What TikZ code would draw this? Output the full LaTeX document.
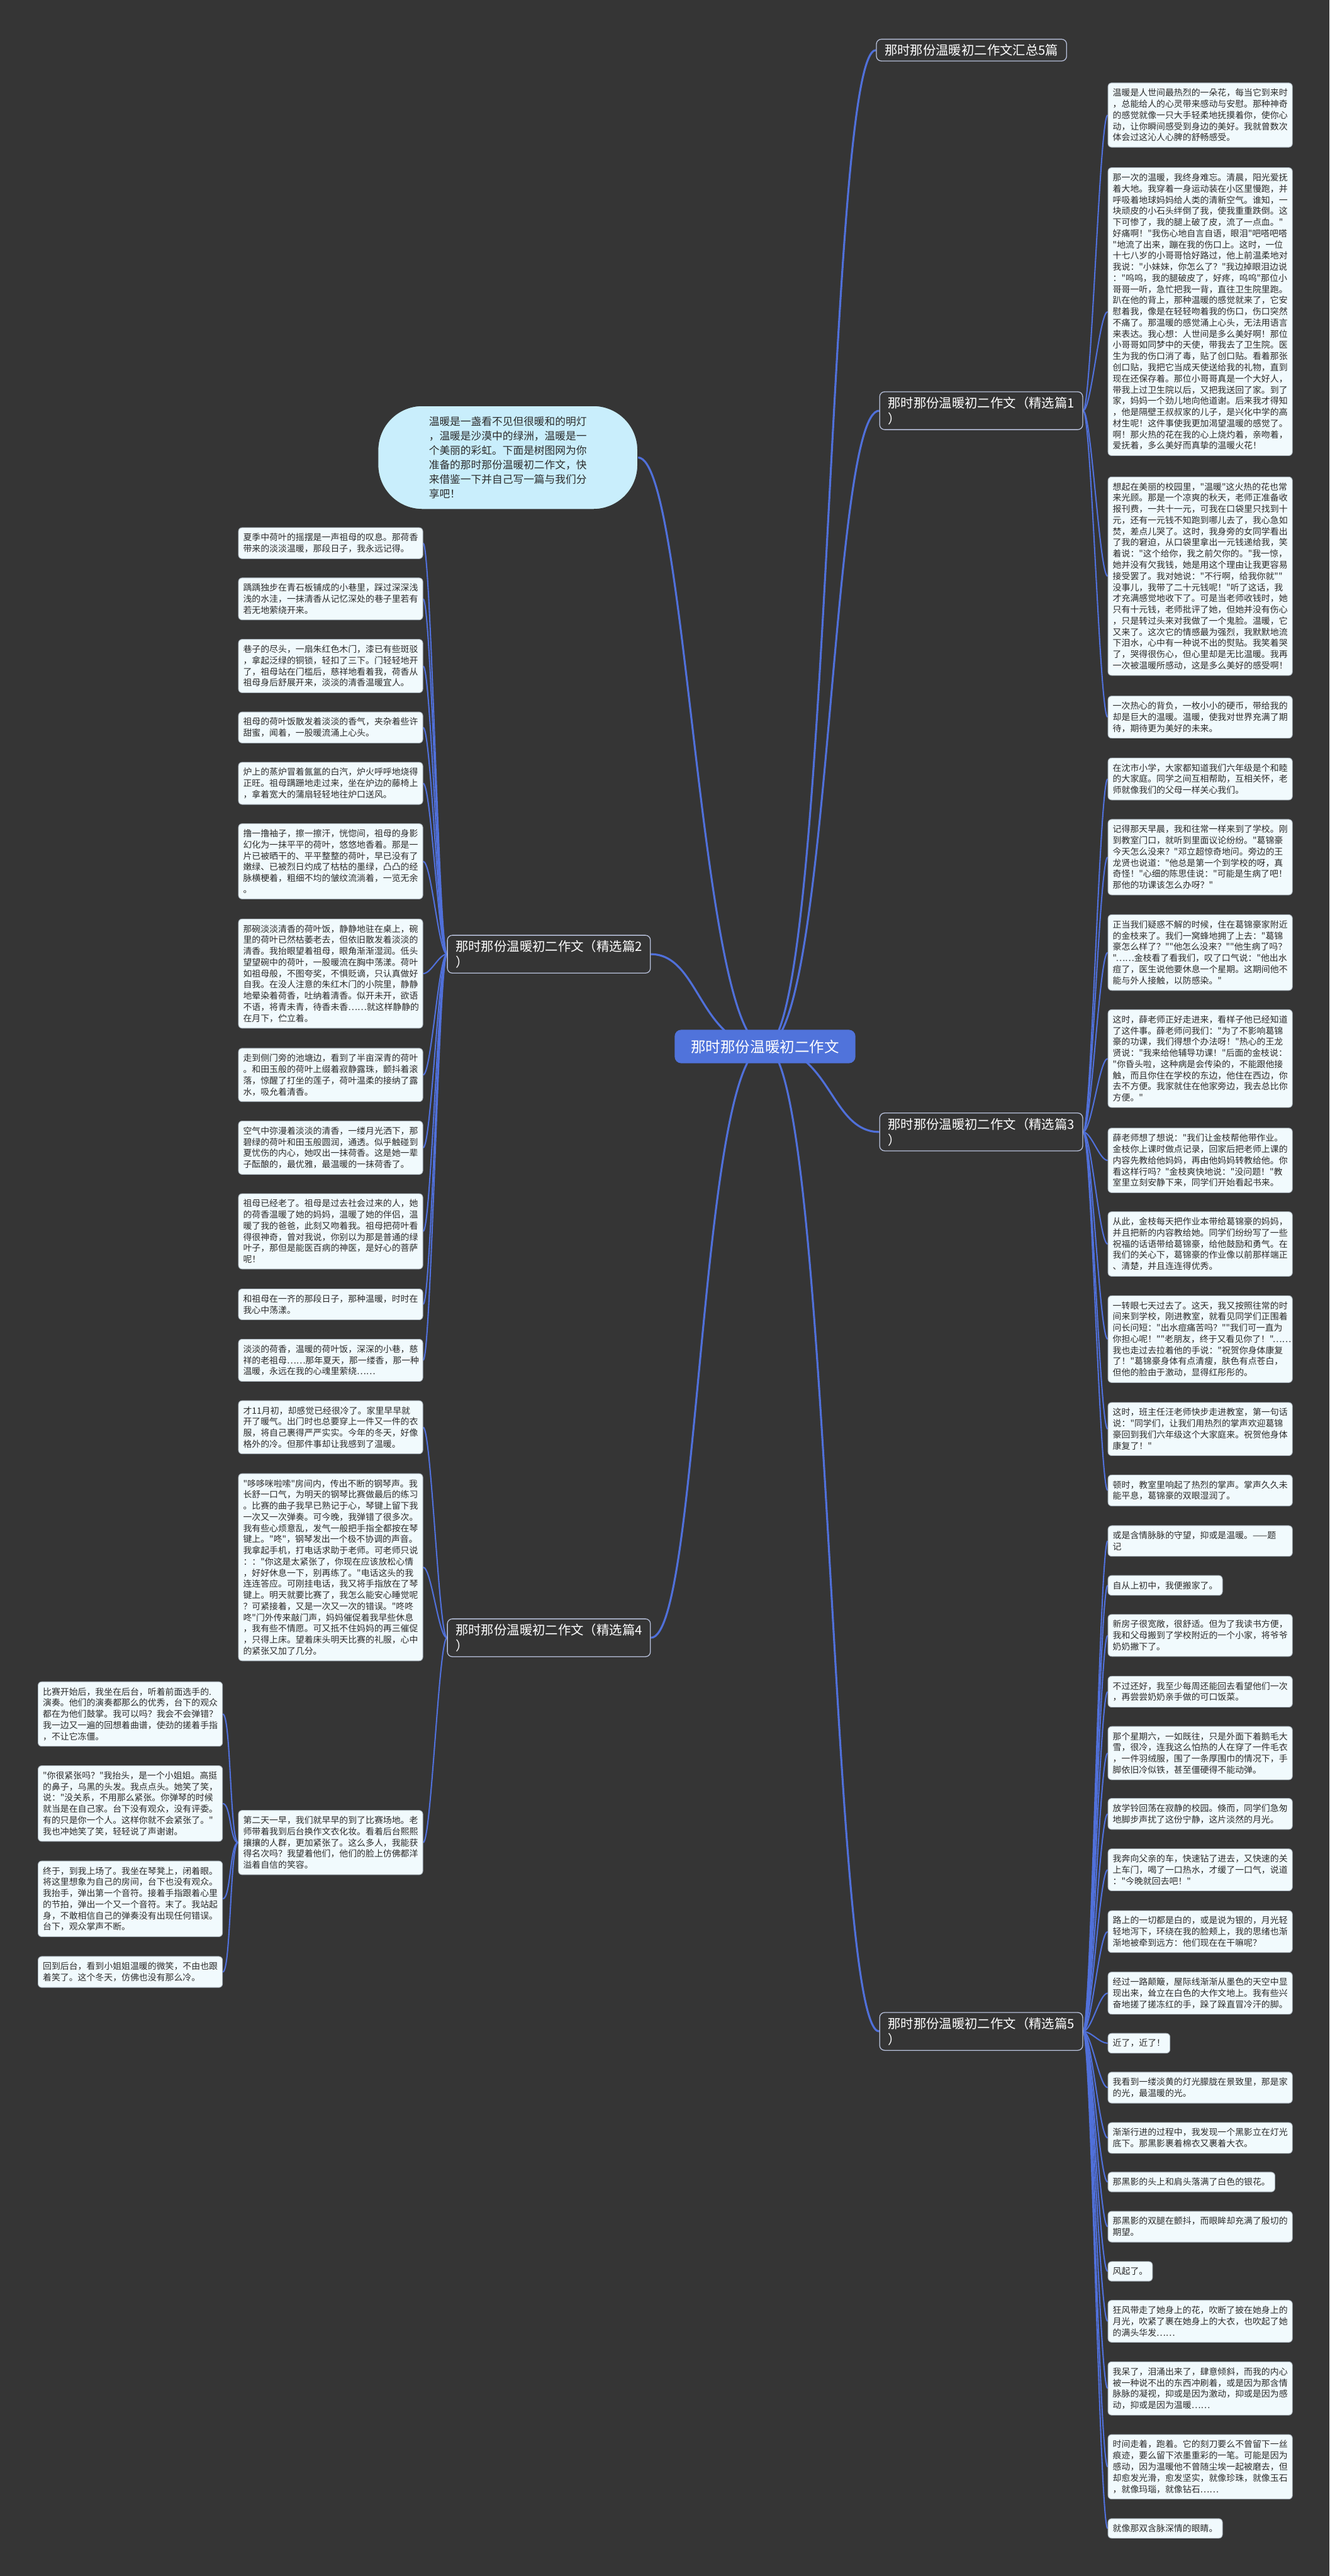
\documentclass[tikz,border=0pt]{standalone}
\usepackage{fontspec}
\setmainfont{Noto Sans CJK SC}[Ligatures=TeXOff]
\usetikzlibrary{positioning}
\pgfdeclarelayer{bgfill}
\pgfdeclarelayer{links}
\pgfsetlayers{bgfill,links,main}
\definecolor{bgc}{HTML}{353535}
\definecolor{leaffill}{HTML}{F1FAFD}
\definecolor{leafline}{HTML}{A9B3BC}
\definecolor{leaftext}{HTML}{2B2B2B}
\definecolor{linkc}{HTML}{5070DA}
\definecolor{rootc}{HTML}{5073DB}
\definecolor{bubblec}{HTML}{C9EEFC}
\definecolor{topicline}{HTML}{B7C0DA}

\tikzset{
  leaf/.style={draw=leafline, line width=0.35pt, fill=leaffill, rounded corners=2.2pt,
    text=leaftext, anchor=north west, align=left, inner xsep=2.9pt, inner ysep=3.5pt,
    font=\fontsize{5.32}{6.8}\selectfont},
  wide/.style={leaf, text width=106.4pt},
  topic/.style={draw=topicline, line width=0.5pt, fill=bgc, rounded corners=3pt, text=white,
    align=left, inner xsep=5pt, inner ysep=3pt, font=\fontsize{7.8}{9.6}\selectfont},
  link/.style={draw=linkc, line width=0.8pt},
  mainlink/.style={draw=linkc, line width=1.2pt},
}

\begin{document}
\begin{tikzpicture}[x=1pt,y=-1pt]
\begin{pgfonlayer}{bgfill}
  \fill[bgc] (0,0) rectangle (809,1568);
\end{pgfonlayer}
\useasboundingbox (0,0) rectangle (809,1568);

% centre and summary
\node[fill=rootc, rounded corners=4pt, text=white, inner xsep=10pt, inner ysep=6pt,
  font=\fontsize{9}{11}\selectfont] (root) at (465.5,637) {那时那份温暖初二作文};
\node[fill=bubblec, draw=bgc, rounded corners=27pt, minimum width=158pt, minimum height=63pt,
  text width=96pt, align=left, text=leaftext, font=\fontsize{6.4}{8.85}\selectfont]
  (s) at (309,278.5) {温暖是一盏看不见但很暖和的明灯\\，温暖是沙漠中的绿洲，温暖是一\\个美丽的彩虹。下面是树图网为你\\准备的那时那份温暖初二作文，快\\来借鉴一下并自己写一篇与我们分\\享吧！};

% branch topics
\node[topic, anchor=west] (b0) at (533,30.5) {那时那份温暖初二作文汇总5篇};
\node[topic, anchor=west] (b1) at (535,250) {那时那份温暖初二作文（精选篇1\\）};
\node[topic, anchor=east] (b2) at (396,580.8) {那时那份温暖初二作文（精选篇2\\）};
\node[topic, anchor=west] (b3) at (535,689) {那时那份温暖初二作文（精选篇3\\）};
\node[topic, anchor=east] (b4) at (396,996.9) {那时那份温暖初二作文（精选篇4\\）};
\node[topic, anchor=west] (b5) at (535,1236.5) {那时那份温暖初二作文（精选篇5\\）};

% 精选篇1
\node[wide] (a1) at (674,50.3) {温暖是人世间最热烈的一朵花，每当它到来时\\，总能给人的心灵带来感动与安慰。那种神奇\\的感觉就像一只大手轻柔地抚摸着你，使你心\\动，让你瞬间感受到身边的美好。我就曾数次\\体会过这沁人心脾的舒畅感受。};
\node[wide] (a2) at (674,101.9) {那一次的温暖，我终身难忘。清晨，阳光爱抚\\着大地。我穿着一身运动装在小区里慢跑，并\\呼吸着地球妈妈给人类的清新空气。谁知，一\\块顽皮的小石头绊倒了我，使我重重跌倒。这\\下可惨了，我的腿上破了皮，流了一点血。"\\好痛啊！"我伤心地自言自语，眼泪"吧嗒吧嗒\\"地流了出来，蹦在我的伤口上。这时，一位\\十七八岁的小哥哥恰好路过，他上前温柔地对\\我说："小妹妹，你怎么了？"我边掉眼泪边说\\："呜呜，我的腿破皮了，好疼，呜呜"那位小\\哥哥一听，急忙把我一背，直往卫生院里跑。\\趴在他的背上，那种温暖的感觉就来了，它安\\慰着我，像是在轻轻吻着我的伤口，伤口突然\\不痛了。那温暖的感觉涌上心头，无法用语言\\来表达。我心想：人世间是多么美好啊！那位\\小哥哥如同梦中的天使，带我去了卫生院。医\\生为我的伤口消了毒，贴了创口贴。看着那张\\创口贴，我把它当成天使送给我的礼物，直到\\现在还保存着。那位小哥哥真是一个大好人，\\带我上过卫生院以后，又把我送回了家。到了\\家，妈妈一个劲儿地向他道谢。后来我才得知\\，他是隔壁王叔叔家的儿子，是兴化中学的高\\材生呢！这件事使我更加渴望温暖的感觉了。\\啊！那火热的花在我的心上烧灼着，亲吻着，\\爱抚着，多么美好而真挚的温暖火花！};
\node[wide] (a3) at (674,290.1) {想起在美丽的校园里，"温暖"这火热的花也常\\来光顾。那是一个凉爽的秋天，老师正准备收\\报刊费，一共十一元，可我在口袋里只找到十\\元，还有一元钱不知跑到哪儿去了，我心急如\\焚，差点儿哭了。这时，我身旁的女同学看出\\了我的窘迫，从口袋里拿出一元钱递给我，笑\\着说："这个给你，我之前欠你的。"我一惊，\\她并没有欠我钱，她是用这个理由让我更容易\\接受罢了。我对她说："不行啊，给我你就""\\没事儿，我带了二十元钱呢！"听了这话，我\\才充满感觉地收下了。可是当老师收钱时，她\\只有十元钱，老师批评了她，但她并没有伤心\\，只是转过头来对我做了一个鬼脸。温暖，它\\又来了。这次它的情感最为强烈，我默默地流\\下泪水，心中有一种说不出的熨贴。我笑着哭\\了，哭得很伤心，但心里却是无比温暖。我再\\一次被温暖所感动，这是多么美好的感受啊！};
\node[wide] (a4) at (674,423.5) {一次热心的背负，一枚小小的硬币，带给我的\\却是巨大的温暖。温暖，使我对世界充满了期\\待，期待更为美好的未来。};

% 精选篇3
\node[wide] (c1) at (674,461.2) {在沈市小学，大家都知道我们六年级是个和睦\\的大家庭。同学之间互相帮助，互相关怀，老\\师就像我们的父母一样关心我们。};
\node[wide] (c2) at (674,498.6) {记得那天早晨，我和往常一样来到了学校。刚\\到教室门口，就听到里面议论纷纷。"葛锦豪\\今天怎么没来？"邓立超惊奇地问。旁边的王\\龙贤也说道："他总是第一个到学校的呀，真\\奇怪！"心细的陈思佳说："可能是生病了吧！\\那他的功课该怎么办呀？"};
\node[wide] (c3) at (674,556.6) {正当我们疑惑不解的时候，住在葛锦豪家附近\\的金枝来了。我们一窝蜂地拥了上去："葛锦\\豪怎么样了？""他怎么没来？""他生病了吗？\\"……金枝看了看我们，叹了口气说："他出水\\痘了，医生说他要休息一个星期。这期间他不\\能与外人接触，以防感染。"};
\node[wide] (c4) at (674,614.4) {这时，薛老师正好走进来，看样子他已经知道\\了这件事。薛老师问我们："为了不影响葛锦\\豪的功课，我们得想个办法呀！"热心的王龙\\贤说："我来给他辅导功课！"后面的金枝说：\\"你昏头啦，这种病是会传染的，不能跟他接\\触，而且你住在学校的东边，他住在西边，你\\去不方便。我家就住在他家旁边，我去总比你\\方便。"};
\node[wide] (c5) at (674,686.5) {薛老师想了想说："我们让金枝帮他带作业。\\金枝你上课时做点记录，回家后把老师上课的\\内容先教给他妈妈，再由他妈妈转教给他。你\\看这样行吗？"金枝爽快地说："没问题！"教\\室里立刻安静下来，同学们开始看起书来。};
\node[wide] (c6) at (674,737.4) {从此，金枝每天把作业本带给葛锦豪的妈妈，\\并且把新的内容教给她。同学们纷纷写了一些\\祝福的话语带给葛锦豪，给他鼓励和勇气。在\\我们的关心下，葛锦豪的作业像以前那样端正\\、清楚，并且连连得优秀。};
\node[wide] (c7) at (674,788.5) {一转眼七天过去了。这天，我又按照往常的时\\间来到学校，刚进教室，就看见同学们正围着\\问长问短："出水痘痛苦吗？""我们可一直为\\你担心呢！""老朋友，终于又看见你了！"……\\我也走过去拉着他的手说："祝贺你身体康复\\了！"葛锦豪身体有点清瘦，肤色有点苍白，\\但他的脸由于激动，显得红彤彤的。};
\node[wide] (c8) at (674,853.5) {这时，班主任汪老师快步走进教室，第一句话\\说："同学们，让我们用热烈的掌声欢迎葛锦\\豪回到我们六年级这个大家庭来。祝贺他身体\\康复了！"};
\node[wide] (c9) at (674,897.6) {顿时，教室里响起了热烈的掌声。掌声久久未\\能平息，葛锦豪的双眼湿润了。};

% 精选篇5
\node[wide] (e1) at (674,928.5) {或是含情脉脉的守望，抑或是温暖。——题\\记};
\node[leaf] (e2) at (674,958.8) {自从上初中，我便搬家了。};
\node[wide] (e3) at (674,982.5) {新房子很宽敞，很舒适。但为了我读书方便，\\我和父母搬到了学校附近的一个小家，将爷爷\\奶奶撇下了。};
\node[wide] (e4) at (674,1020.1) {不过还好，我至少每周还能回去看望他们一次\\，再尝尝奶奶亲手做的可口饭菜。};
\node[wide] (e5) at (674,1050.7) {那个星期六，一如既往，只是外面下着鹅毛大\\雪，很冷，连我这么怕热的人在穿了一件毛衣\\，一件羽绒服，围了一条厚围巾的情况下，手\\脚依旧冷似铁，甚至僵硬得不能动弹。};
\node[wide] (e6) at (674,1094.5) {放学铃回荡在寂静的校园。倏而，同学们急匆\\地脚步声扰了这份宁静，这片淡然的月光。};
\node[wide] (e7) at (674,1125.2) {我奔向父亲的车，快速钻了进去，又快速的关\\上车门，喝了一口热水，才缓了一口气，说道\\："今晚就回去吧！"};
\node[wide] (e8) at (674,1162.8) {路上的一切都是白的，或是说为银的，月光轻\\轻地泻下，环绕在我的脸颊上，我的思绪也渐\\渐地被牵到远方：他们现在在干嘛呢？};
\node[wide] (e9) at (674,1200.2) {经过一路颠簸，屋际线渐渐从墨色的天空中显\\现出来，耸立在白色的大作文地上。我有些兴\\奋地搓了搓冻红的手，跺了跺直冒冷汗的脚。};
\node[leaf] (e10) at (674,1237.5) {近了，近了！};
\node[wide] (e11) at (674,1261.1) {我看到一缕淡黄的灯光朦胧在景致里，那是家\\的光，最温暖的光。};
\node[wide] (e12) at (674,1291.8) {渐渐行进的过程中，我发现一个黑影立在灯光\\底下。那黑影裹着棉衣又裹着大衣。};
\node[leaf] (e13) at (674,1322) {那黑影的头上和肩头落满了白色的银花。};
\node[wide] (e14) at (674,1345.8) {那黑影的双腿在颤抖，而眼眸却充满了殷切的\\期望。};
\node[leaf] (e15) at (674,1376.4) {风起了。};
\node[wide] (e16) at (674,1400) {狂风带走了她身上的花，吹断了披在她身上的\\月光，吹紧了裹在她身上的大衣，也吹起了她\\的满头华发……};
\node[wide] (e17) at (674,1437.4) {我呆了，泪涌出来了，肆意倾斜，而我的内心\\被一种说不出的东西冲刷着，或是因为那含情\\脉脉的凝视，抑或是因为激动，抑或是因为感\\动，抑或是因为温暖……};
\node[wide] (e18) at (674,1481.7) {时间走着，跑着。它的刻刀要么不曾留下一丝\\痕迹，要么留下浓墨重彩的一笔。可能是因为\\感动，因为温暖他不曾随尘埃一起被磨去，但\\却愈发光滑，愈发坚实，就像珍珠，就像玉石\\，就像玛瑙，就像钻石……};
\node[leaf] (e19) at (674,1532.9) {就像那双含脉深情的眼睛。};

% 精选篇2
\node[wide] (l1) at (144.9,321) {夏季中荷叶的摇摆是一声祖母的叹息。那荷香\\带来的淡淡温暖，那段日子，我永远记得。};
\node[wide] (l2) at (144.9,351.6) {踽踽独步在青石板铺成的小巷里，踩过深深浅\\浅的水洼，一抹清香从记忆深处的巷子里若有\\若无地萦绕开来。};
\node[wide] (l3) at (144.9,389) {巷子的尽头，一扇朱红色木门，漆已有些斑驳\\，拿起泛绿的铜锁，轻扣了三下。门轻轻地开\\了，祖母站在门槛后，慈祥地看着我，荷香从\\祖母身后舒展开来，淡淡的清香温暖宜人。};
\node[wide] (l4) at (144.9,433.2) {祖母的荷叶饭散发着淡淡的香气，夹杂着些许\\甜蜜，闻着，一股暖流涌上心头。};
\node[wide] (l5) at (144.9,463.8) {炉上的蒸炉冒着氤氲的白汽，炉火呼呼地烧得\\正旺。祖母蹒跚地走过来，坐在炉边的藤椅上\\，拿着宽大的蒲扇轻轻地往炉口送风。};
\node[wide] (l6) at (144.9,501.2) {撸一撸袖子，擦一擦汗，恍惚间，祖母的身影\\幻化为一抹平平的荷叶，悠悠地香着。那是一\\片已被晒干的、平平整整的荷叶，早已没有了\\嫩绿、已被烈日灼成了枯枯的墨绿，凸凸的经\\脉横梗着，粗细不均的皱纹流淌着，一览无余\\。};
\node[wide] (l7) at (144.9,559.2) {那碗淡淡清香的荷叶饭，静静地驻在桌上，碗\\里的荷叶已然枯萎老去，但依旧散发着淡淡的\\清香。我抬眼望着祖母，眼角渐渐湿润。低头\\望望碗中的荷叶，一股暖流在胸中荡漾。荷叶\\如祖母般，不图夸奖，不惧贬谪，只认真做好\\自我。在没人注意的朱红木门的小院里，静静\\地晕染着荷香，吐纳着清香。似开未开，欲语\\不语，将青未青，待香未香……就这样静静的\\在月下，伫立着。};
\node[wide] (l8) at (144.9,637.9) {走到侧门旁的池塘边，看到了半亩深青的荷叶\\。和田玉般的荷叶上缀着寂静露珠，颤抖着滚\\落，惊醒了打坐的莲子，荷叶温柔的接纳了露\\水，吸允着清香。};
\node[wide] (l9) at (144.9,682.2) {空气中弥漫着淡淡的清香，一缕月光洒下，那\\碧绿的荷叶和田玉般圆润，通透。似乎触碰到\\夏忧伤的内心，她叹出一抹荷香。这是她一辈\\子酝酿的，最优雅，最温暖的一抹荷香了。};
\node[wide] (l10) at (144.9,726.4) {祖母已经老了。祖母是过去社会过来的人，她\\的荷香温暖了她的妈妈，温暖了她的伴侣，温\\暖了我的爸爸，此刻又吻着我。祖母把荷叶看\\得很神奇，曾对我说，你别以为那是普通的绿\\叶子，那但是能医百病的神医，是好心的菩萨\\呢！};
\node[wide] (l11) at (144.9,784.4) {和祖母在一齐的那段日子，那种温暖，时时在\\我心中荡漾。};
\node[wide] (l12) at (144.9,815) {淡淡的荷香，温暖的荷叶饭，深深的小巷，慈\\祥的老祖母……那年夏天，那一缕香，那一种\\温暖，永远在我的心魂里萦绕……};

% 精选篇4
\node[wide] (m1) at (144.9,852.4) {才11月初，却感觉已经很冷了。家里早早就\\开了暖气。出门时也总要穿上一件又一件的衣\\服，将自己裹得严严实实。今年的冬天，好像\\格外的冷。但那件事却让我感到了温暖。};
\node[wide] (m2) at (144.9,896.8) {"哆哆咪啦嗦"房间内，传出不断的钢琴声。我\\长舒一口气，为明天的钢琴比赛做最后的练习\\。比赛的曲子我早已熟记于心，琴键上留下我\\一次又一次弹奏。可今晚，我弹错了很多次。\\我有些心烦意乱，发气一般把手指全都按在琴\\键上。"咚"，钢琴发出一个极不协调的声音。\\我拿起手机，打电话求助于老师。可老师只说\\：："你这是太紧张了，你现在应该放松心情\\，好好休息一下，别再练了。"电话这头的我\\连连答应。可刚挂电话，我又将手指放在了琴\\键上。明天就要比赛了，我怎么能安心睡觉呢\\？可紧接着，又是一次又一次的错误。"咚咚\\咚"门外传来敲门声，妈妈催促着我早些休息\\，我有些不情愿。可又抵不住妈妈的再三催促\\，只得上床。望着床头明天比赛的礼服，心中\\的紧张又加了几分。};
\node[wide] (m3) at (144.9,1101.8) {第二天一早，我们就早早的到了比赛场地。老\\师带着我到后台换作文衣化妆。看着后台熙熙\\攘攘的人群，更加紧张了。这么多人，我能获\\得名次吗？我望着他们，他们的脸上仿佛都洋\\溢着自信的笑容。};
\node[wide] (f1) at (23,1023.5) {比赛开始后，我坐在后台，听着前面选手的.\\演奏。他们的演奏都那么的优秀，台下的观众\\都在为他们鼓掌。我可以吗？我会不会弹错？\\我一边又一遍的回想着曲谱，使劲的搓着手指\\，不让它冻僵。};
\node[wide] (f2) at (23,1074.6) {"你很紧张吗？"我抬头，是一个小姐姐。高挺\\的鼻子，乌黑的头发。我点点头。她笑了笑，\\说："没关系，不用那么紧张。你弹琴的时候\\就当是在自己家。台下没有观众，没有评委。\\有的只是你一个人。这样你就不会紧张了。"\\我也冲她笑了笑，轻轻说了声谢谢。};
\node[wide] (f3) at (23,1132.6) {终于，到我上场了。我坐在琴凳上，闭着眼。\\将这里想象为自己的房间，台下也没有观众。\\我抬手，弹出第一个音符。接着手指跟着心里\\的节拍，弹出一个又一个音符。末了。我站起\\身，不敢相信自己的弹奏没有出现任何错误。\\台下，观众掌声不断。};
\node[wide] (f4) at (23,1190.7) {回到后台，看到小姐姐温暖的微笑，不由也跟\\着笑了。这个冬天，仿佛也没有那么冷。};

\begin{pgfonlayer}{links}
  % centre to topics
  \foreach \b in {b0,b1,b3,b5}
    \draw[mainlink] (root.center) .. controls +(40,0) and +(-30,0) .. (\b.west);
  \foreach \b in {b2,b4,s}
    \draw[mainlink] (root.center) .. controls +(-40,0) and +(30,0) .. (\b.east);
  % topics to leaves
  \foreach \c in {a1,a2,a3,a4}
    \draw[link] (b1.east) .. controls +(5,0) and +(-5,0) .. (\c.west);
  \foreach \c in {c1,c2,c3,c4,c5,c6,c7,c8,c9}
    \draw[link] (b3.east) .. controls +(5,0) and +(-5,0) .. (\c.west);
  \foreach \c in {e1,e2,e3,e4,e5,e6,e7,e8,e9,e10,e11,e12,e13,e14,e15,e16,e17,e18,e19}
    \draw[link] (b5.east) .. controls +(5,0) and +(-5,0) .. (\c.west);
  \foreach \c in {l1,l2,l3,l4,l5,l6,l7,l8,l9,l10,l11,l12}
    \draw[link] (b2.west) .. controls +(-5,0) and +(5,0) .. (\c.east);
  \foreach \c in {m1,m2,m3}
    \draw[link] (b4.west) .. controls +(-5,0) and +(5,0) .. (\c.east);
  \foreach \c in {f1,f2,f3,f4}
    \draw[link] (m3.west) .. controls +(-5,0) and +(5,0) .. (\c.east);
\end{pgfonlayer}
\end{tikzpicture}
\end{document}
